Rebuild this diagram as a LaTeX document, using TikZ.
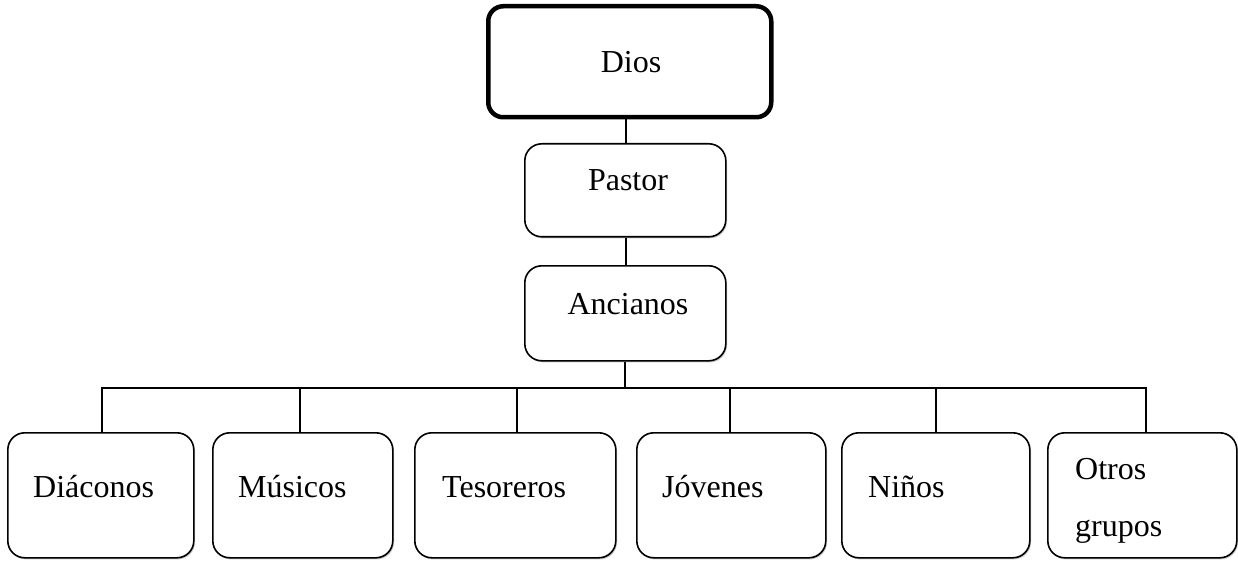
\documentclass[tikz,border=0pt]{standalone}
\usepackage{fontspec}
\setmainfont{Liberation Serif}
\usetikzlibrary{shadows}
\begin{document}
\begin{tikzpicture}[x=1pt,y=-1pt,
  boxstyle/.style={draw=black, line width=1.6pt, rounded corners=17pt, fill=white,
    inner sep=0pt, anchor=north west,
    drop shadow={shadow xshift=1.2pt, shadow yshift=-1.6pt, opacity=0.35, fill=black!60}},
  topbox/.style={boxstyle, line width=4.5pt, rounded corners=15pt, drop shadow={opacity=0}},
  lbl/.style={inner sep=0pt, font=\fontsize{32}{38}\selectfont},
  conn/.style={draw=black, line width=1.6pt}]
\useasboundingbox (0,0) rectangle (1238,561);
% top chain
\node[topbox, minimum width=283pt, minimum height=111pt] (dios) at (486,4) {};
\node[lbl, anchor=base] (diost) at (631,72.5) {Dios};
\node[boxstyle, minimum width=201pt, minimum height=93pt] (pastor) at (524,143) {};
\node[lbl, anchor=base] (pastort) at (628,191) {Pastor};
\node[boxstyle, minimum width=201pt, minimum height=95pt] (ancianos) at (524,265) {};
\node[lbl, anchor=base] (ancianost) at (628,314) {Ancianos};
% bottom row
\node[boxstyle, minimum width=186pt, minimum height=125pt] (b1) at (7,432) {};
\node[lbl, anchor=base west] (b1t) at (33,497) {Diáconos};
\node[boxstyle, minimum width=180pt, minimum height=125pt] (b2) at (212,432) {};
\node[lbl, anchor=base west] (b2t) at (238,497) {Músicos};
\node[boxstyle, minimum width=201pt, minimum height=125pt] (b3) at (414,432) {};
\node[lbl, anchor=base west] (b3t) at (442,497) {Tesoreros};
\node[boxstyle, minimum width=189pt, minimum height=125pt] (b4) at (636,432) {};
\node[lbl, anchor=base west] (b4t) at (662,497) {Jóvenes};
\node[boxstyle, minimum width=188pt, minimum height=125pt] (b5) at (841,432) {};
\node[lbl, anchor=base west] (b5t) at (868,497) {Niños};
\node[boxstyle, minimum width=189pt, minimum height=125pt] (b6) at (1047,432) {};
\node[lbl, anchor=base west] (b6a) at (1075,479) {Otros};
\node[lbl, anchor=base west] (b6b) at (1075,536) {grupos};
% connectors
\coordinate (bus) at (625,388);
\draw[conn] (dios.south -| 626,0) -- (pastor.north -| 626,0);
\draw[conn] (pastor.south -| 626,0) -- (ancianos.north -| 626,0);
\draw[conn] (ancianos.south -| bus) -- (bus);
\draw[conn] (b1.north -| 102,0) -- (102,388) -- (1146,388) -- (b6.north -| 1146,0);
\draw[conn] (b2.north -| 300,0) -- (300,388);
\draw[conn] (b3.north -| 517,0) -- (517,388);
\draw[conn] (b4.north -| 730,0) -- (730,388);
\draw[conn] (b5.north -| 936,0) -- (936,388);
\end{tikzpicture}
\end{document}
